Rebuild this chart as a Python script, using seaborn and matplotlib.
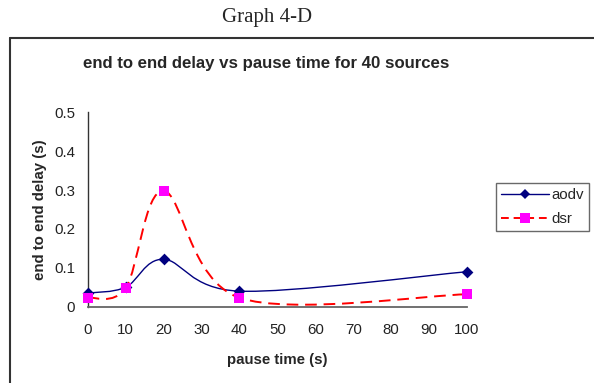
import numpy as np
import matplotlib
matplotlib.use("Agg")
import matplotlib.pyplot as plt
import seaborn as sns
from matplotlib.path import Path
from matplotlib.patches import PathPatch
from matplotlib.lines import Line2D

# pause time (s) and end-to-end delay (s) for each protocol
pause_time = [0, 10, 20, 40, 100]
aodv_delay = [0.035, 0.050, 0.122, 0.040, 0.090]
dsr_delay = [0.023, 0.048, 0.298, 0.023, 0.032]

x_ticks = [0, 10, 20, 30, 40, 50, 60, 70, 80, 90, 100]
y_ticks = [0, 0.1, 0.2, 0.3, 0.4, 0.5]
y_ticklabels = ["0", "0.1", "0.2", "0.3", "0.4", "0.5"]

sns.set_style("white")
plt.rcParams["font.family"] = ["Liberation Sans", "DejaVu Sans"]


def smooth_path(xs, ys):
    """Cubic Bezier path through the points (spreadsheet-style smoothed line)."""
    pts = np.column_stack([xs, ys]).astype(float)
    n = len(pts)
    verts = [pts[0]]
    codes = [Path.MOVETO]
    for i in range(n - 1):
        p0 = pts[i - 1] if i > 0 else pts[i]
        p1 = pts[i]
        p2 = pts[i + 1]
        p3 = pts[i + 2] if i + 2 < n else pts[i + 1]
        c1 = p1 + (p2 - p0) / 6.0
        c2 = p2 - (p3 - p1) / 6.0
        verts += [c1, c2, p2]
        codes += [Path.CURVE4] * 3
    return Path(verts, codes)


fig = plt.figure(figsize=(5.94, 3.83), dpi=100)
fig.patch.set_facecolor("white")
ax = fig.add_axes([0.1476, 0.1992, 0.6386, 0.5076])

aodv_color = "#000080"
dsr_line = "#FF0000"
dsr_marker = "#FF00FF"

ax.add_patch(PathPatch(smooth_path(pause_time, aodv_delay), facecolor="none",
                       edgecolor=aodv_color, lw=1.0, zorder=3, clip_on=False))
ax.add_patch(PathPatch(smooth_path(pause_time, dsr_delay), facecolor="none",
                       edgecolor=dsr_line, lw=1.4, linestyle=(0, (6, 3.5)),
                       zorder=3, clip_on=False))

sns.scatterplot(x=pause_time, y=aodv_delay, marker="D", s=36, color=aodv_color,
                edgecolor=aodv_color, linewidth=0, ax=ax, zorder=4, clip_on=False)
sns.scatterplot(x=pause_time, y=dsr_delay, marker="s", s=42, color=dsr_marker,
                edgecolor=dsr_marker, linewidth=0, ax=ax, zorder=5, clip_on=False)

ax.set_xlim(0, 100)
ax.set_ylim(0, 0.5)
ax.set_xticks(x_ticks)
ax.set_xticklabels([str(t) for t in x_ticks])
ax.set_yticks(y_ticks)
ax.set_yticklabels(y_ticklabels)
ax.tick_params(axis="both", labelsize=10.8, colors="#222222", length=4,
               width=1, direction="out", pad=3)
ax.tick_params(axis="x", pad=8)
ax.tick_params(axis="y", pad=5)

for side in ["top", "right"]:
    ax.spines[side].set_visible(False)
ax.spines["left"].set_color("#333333")
ax.spines["bottom"].set_color("#666666")
ax.spines["left"].set_linewidth(1.0)
ax.spines["bottom"].set_linewidth(1.3)

ax.set_xlabel("pause time (s)", fontsize=10.8, fontweight="bold", labelpad=11)
ax.set_ylabel("end to end delay (s)", fontsize=10.8, fontweight="bold", labelpad=5)

fig.text(0.448, 0.835, "end to end delay vs pause time for 40 sources",
         ha="center", va="center", fontsize=12.1, fontweight="bold")
fig.text(0.45, 0.955, "Graph 4-D", ha="center", va="center", fontsize=15,
         family=["Liberation Serif", "DejaVu Serif"])

# chart frame
frame_color = "#333333"
fig.add_artist(Line2D([0.016, 0.016], [0.0, 0.9008], transform=fig.transFigure,
                      color=frame_color, lw=1.5))
fig.add_artist(Line2D([0.016, 1.0], [0.9008, 0.9008], transform=fig.transFigure,
                      color=frame_color, lw=1.5))

handles = [
    Line2D([], [], color=aodv_color, lw=1.0, marker="D", markersize=5.5,
           markerfacecolor=aodv_color, markeredgewidth=0),
    Line2D([], [], color=dsr_line, lw=1.4, linestyle=(0, (4, 2.5)), marker="s",
           markersize=6.5, markerfacecolor=dsr_marker, markeredgewidth=0),
]
leg = fig.legend(handles, ["aodv", "dsr"], loc="upper left",
                 bbox_to_anchor=(0.8345, 0.521), frameon=True, fancybox=False,
                 fontsize=10.8, handlelength=3.2, handletextpad=0.2,
                 borderpad=0.42, borderaxespad=0, labelspacing=0.65,
                 columnspacing=0.5)
leg.get_frame().set_edgecolor("#444444")
leg.get_frame().set_linewidth(1.0)
# tighter horizontal padding than the vertical one
leg._legend_box.pad = 3.5

fig.savefig("out.png", dpi=100, facecolor="white")
